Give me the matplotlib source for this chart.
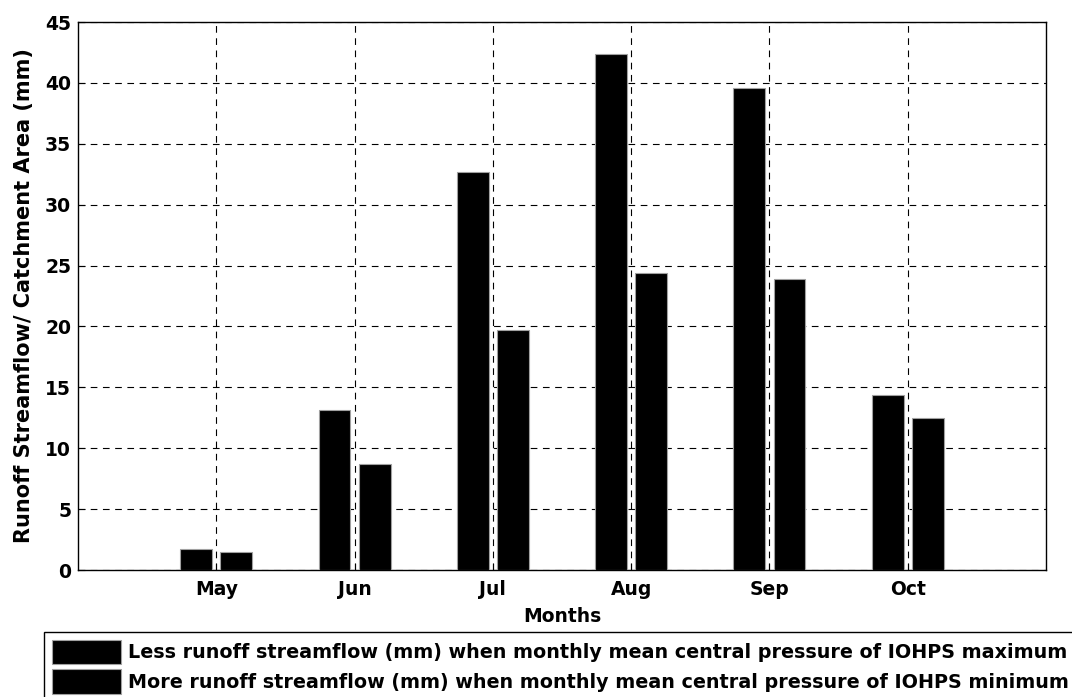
import numpy as np
import matplotlib.pyplot as plt

# dane
months = ["May", "Jun", "Jul", "Aug", "Sep", "Oct"]
less_runoff = [1.7, 13.1, 32.7, 42.4, 39.6, 14.4]
more_runoff = [1.5, 8.7, 19.7, 24.4, 23.9, 12.5]

plt.rcParams['font.family'] = ['DejaVu Sans']
plt.rcParams['font.weight'] = 'bold'
fs = 13.5

fig = plt.figure(figsize=(10.72, 6.97), dpi=100)
ax = fig.add_axes([0.0728, 0.1822, 0.9029, 0.7862])

x = np.arange(1, len(months) + 1)
w = 0.23
off = 0.145
ax.bar(x - off, less_runoff, w, color='black', edgecolor='#a0a0a0', linewidth=0.8,
       label='Less runoff streamflow (mm) when monthly mean central pressure of IOHPS maximum', zorder=3)
ax.bar(x + off, more_runoff, w, color='black', edgecolor='#a0a0a0', linewidth=0.8,
       label='More runoff streamflow (mm) when monthly mean central pressure of IOHPS minimum', zorder=3)

ax.set_xlim(0, 7)
ax.set_ylim(0, 45)
ax.set_xticks(x)
ax.set_xticklabels(months)
ax.set_yticks(np.arange(0, 46, 5))
ax.tick_params(direction='in', length=5, labelsize=fs, width=0.8)
ax.tick_params(axis='x', pad=7)
ax.tick_params(axis='y', pad=5)
for lbl in ax.get_xticklabels() + ax.get_yticklabels():
    lbl.set_fontweight('bold')
ax.grid(True, color='black', linestyle=(0, (6, 5)), linewidth=0.8, zorder=0)
ax.set_axisbelow(True)
for s in ax.spines.values():
    s.set_linewidth(1.0)

ax.set_xlabel("Months", fontsize=fs, fontweight='bold', labelpad=6)
ax.set_ylabel("Runoff Streamflow/ Catchment Area (mm)", fontsize=15, fontweight='bold', labelpad=8)

leg = fig.legend(loc='upper left', bbox_to_anchor=(44 / 1072, 1 - 632 / 697),
                 frameon=True, fancybox=False, edgecolor='black', framealpha=1,
                 prop={'size': 13.8, 'weight': 'bold'},
                 handlelength=3.6, handleheight=1.6, handletextpad=0.4,
                 borderpad=0.4, labelspacing=0.25, borderaxespad=0)
leg.get_frame().set_linewidth(1.0)

fig.savefig("out.png", dpi=100)
